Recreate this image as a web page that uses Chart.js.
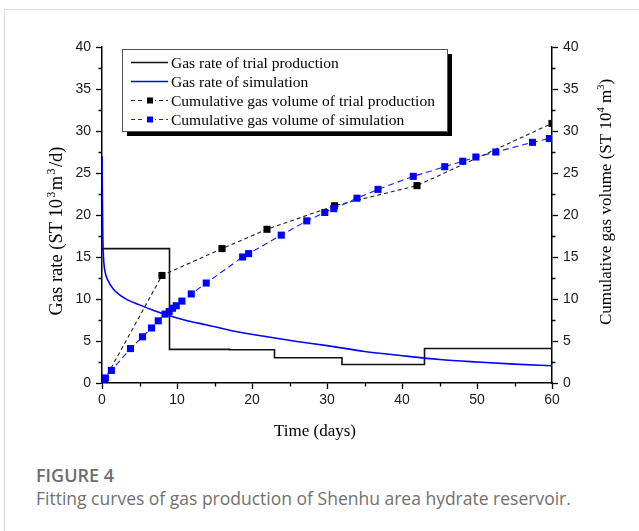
<!DOCTYPE html>
<html>
<head>
<meta charset="utf-8">
<script src="https://cdn.jsdelivr.net/npm/chart.js@4.4.1/dist/chart.umd.min.js"></script>
<style>
  html, body { margin: 0; padding: 0; background: #fff; }
  body { width: 639px; height: 531px; position: relative; overflow: hidden; }
  .frame { position: absolute; left: 4px; top: 9px; width: 700px; height: 600px; border-top: 1px solid #dcdcdc; border-left: 1px solid #dcdcdc; }
  #chart { position: absolute; left: 0; top: 0; }
  .fig-label { position: absolute; left: 36px; top: 466px; font: 600 18px/18px "Open Sans", sans-serif; color: #6d6d6d; }
  .fig-caption { position: absolute; left: 36px; top: 490px; font: 400 17.5px/17.5px "Open Sans", sans-serif; color: #707070; white-space: nowrap; }
</style>
</head>
<body>
<div class="frame"></div>
<canvas id="chart" width="639" height="460"></canvas>
<div class="fig-label">FIGURE 4</div>
<div class="fig-caption">Fitting curves of gas production of Shenhu area hydrate reservoir.</div>
<script>
// Gas rate (left axis) and cumulative volume (right axis), trial vs simulation.

const trialRateDays = [0, 9, 17, 23, 32, 43, 60];
const trialRate = [16, 4, 3.95, 3, 2.2, 4.1, 4.1];

const simRateDays = [0, 0.05, 0.1, 0.2, 0.4, 0.8, 1.5, 3, 5, 7, 9, 11, 14, 18, 22, 26, 30, 35, 40, 45, 50, 55, 60];
const simRate = [27, 22, 18, 15, 13.3, 12.2, 11.2, 10.1, 9.3, 8.6, 8.0, 7.5, 6.9, 6.1, 5.5, 4.95, 4.45, 3.75, 3.25, 2.8, 2.5, 2.25, 2.05];

const trialCumDays = [0.3, 8, 16, 22, 31, 42, 60];
const trialCum = [0.3, 12.8, 16, 18.3, 21.1, 23.5, 30.9];

const simCumDays = [0.1, 0.45, 1.25, 3.8, 5.4, 6.6, 7.5, 8.4, 8.95, 9.4, 9.9, 10.65, 11.9, 13.9, 18.75, 19.55, 23.9, 27.3, 29.7, 30.9, 34.0, 36.8, 41.5, 45.7, 48.1, 49.85, 52.5, 57.4, 59.65];
const simCum = [0.3, 0.6, 1.5, 4.1, 5.5, 6.55, 7.4, 8.2, 8.5, 8.9, 9.2, 9.75, 10.6, 11.9, 15.0, 15.4, 17.6, 19.3, 20.3, 20.75, 22.0, 23.05, 24.6, 25.75, 26.4, 26.9, 27.5, 28.65, 29.1];

const xTicks = [0, 10, 20, 30, 40, 50, 60];
const xMinor = [5, 15, 25, 35, 45, 55];
const yTicks = [0, 5, 10, 15, 20, 25, 30, 35, 40];
const yMinor = [2.5, 7.5, 12.5, 17.5, 22.5, 27.5, 32.5, 37.5];

const serif = '"Liberation Serif", "Times New Roman", serif';
const sans = '"Liberation Sans", Arial, sans-serif';

const toPoints = (xs, ys) => xs.map((x, i) => ({ x, y: ys[i] }));

// small ticks between the labelled ones
const minorTicks = {
  id: 'minorTicks',
  afterDraw(chart) {
    const { ctx, scales } = chart;
    ctx.save();
    ctx.strokeStyle = '#000';
    ctx.lineWidth = 1.3;
    ctx.beginPath();
    xMinor.forEach((v) => {
      const px = Math.round(scales.x.getPixelForValue(v)) + 0.5;
      ctx.moveTo(px, scales.x.top);
      ctx.lineTo(px, scales.x.top + 3.5);
    });
    yMinor.forEach((v) => {
      const py = Math.round(scales.y.getPixelForValue(v)) + 0.5;
      ctx.moveTo(scales.y.right, py);
      ctx.lineTo(scales.y.right - 3.5, py);
      ctx.moveTo(scales.y2.left, py);
      ctx.lineTo(scales.y2.left + 3.5, py);
    });
    ctx.stroke();
    ctx.restore();
  }
};

// text with raised small digits, centred on the current origin
const drawRich = (ctx, parts, size) => {
  let total = 0;
  parts.forEach((p) => {
    ctx.font = `${p.sup ? size * 0.62 : size}px ${serif}`;
    p.w = ctx.measureText(p.t).width + (p.gap || 0);
    total += p.w;
  });
  let x = -total / 2;
  parts.forEach((p) => {
    ctx.font = `${p.sup ? size * 0.62 : size}px ${serif}`;
    ctx.fillText(p.t, x + (p.gap || 0) / 2, p.sup ? -size * 0.4 : 0);
    x += p.w;
  });
};

const axisTitles = {
  id: 'axisTitles',
  afterDraw(chart) {
    const { ctx } = chart;
    ctx.save();
    ctx.fillStyle = '#000';
    ctx.textBaseline = 'alphabetic';
    ctx.textAlign = 'left';

    ctx.save();
    ctx.translate(315, 436);
    drawRich(ctx, [{ t: 'Time (days)' }], 17);
    ctx.restore();

    ctx.save();
    ctx.translate(62, 231);
    ctx.rotate(-Math.PI / 2);
    drawRich(ctx, [{ t: 'Gas rate (ST 10' }, { t: '3', sup: true, gap: 3 }, { t: 'm' }, { t: '3', sup: true, gap: 3 }, { t: '/d)' }], 18.5);
    ctx.restore();

    ctx.save();
    ctx.translate(611, 202);
    ctx.rotate(-Math.PI / 2);
    drawRich(ctx, [{ t: 'Cumulative gas volume (ST 10' }, { t: '4', sup: true }, { t: ' m' }, { t: '3', sup: true }, { t: ')' }], 17);
    ctx.restore();

    ctx.restore();
  }
};

// framed legend with a drop shadow, top left of the plot
const boxLegend = {
  id: 'boxLegend',
  afterDraw(chart) {
    const { ctx } = chart;
    const box = { x: 122, y: 49, w: 325, h: 82 };
    ctx.save();
    ctx.fillStyle = '#000';
    ctx.fillRect(box.x + 5, box.y + 5, box.w, box.h);
    ctx.fillStyle = '#fff';
    ctx.fillRect(box.x, box.y, box.w, box.h);
    ctx.strokeStyle = '#555';
    ctx.lineWidth = 1;
    ctx.strokeRect(box.x + 0.5, box.y + 0.5, box.w, box.h);

    const rows = [62.5, 81.5, 100.5, 119.5];
    chart.data.datasets.forEach((ds, i) => {
      const y = rows[i];
      ctx.strokeStyle = ds.borderColor;
      ctx.lineWidth = ds.borderDash ? 1.1 : 1.6;
      ctx.setLineDash(ds.borderDash ? [4, 3] : []);
      ctx.beginPath();
      ctx.moveTo(131, y);
      ctx.lineTo(168, y);
      ctx.stroke();
      ctx.setLineDash([]);
      if (ds.pointRadius) {
        ctx.fillStyle = '#fff';
        ctx.fillRect(145, y - 4, 10, 8);
        ctx.fillStyle = ds.pointBackgroundColor;
        ctx.fillRect(147, y - 3, 6, 6);
      }
      ctx.fillStyle = '#000';
      ctx.font = `15.5px ${serif}`;
      ctx.textBaseline = 'middle';
      ctx.fillText(ds.label, 171, y + 1);
    });
    ctx.restore();
  }
};

const tickFont = { family: sans, size: 14 };

new Chart(document.getElementById('chart'), {
  type: 'line',
  data: {
    datasets: [
      {
        label: 'Gas rate of trial production',
        data: toPoints(trialRateDays, trialRate),
        yAxisID: 'y',
        borderColor: '#111',
        borderWidth: 1.6,
        stepped: 'before',
        pointRadius: 0,
        order: 4
      },
      {
        label: 'Gas rate of simulation',
        data: toPoints(simRateDays, simRate),
        yAxisID: 'y',
        borderColor: '#0000ff',
        borderWidth: 1.6,
        cubicInterpolationMode: 'monotone',
        pointRadius: 0,
        order: 3
      },
      {
        label: 'Cumulative gas volume of trial production',
        data: toPoints(trialCumDays, trialCum),
        yAxisID: 'y2',
        borderColor: '#222',
        borderWidth: 1.1,
        borderDash: [4, 3],
        pointStyle: 'rect',
        pointRadius: 5,
        pointBackgroundColor: '#000',
        pointBorderWidth: 0,
        order: 2
      },
      {
        label: 'Cumulative gas volume of simulation',
        data: toPoints(simCumDays, simCum),
        yAxisID: 'y2',
        borderColor: '#1a1aff',
        borderWidth: 1.1,
        borderDash: [6, 4],
        pointStyle: 'rect',
        pointRadius: 5,
        pointBackgroundColor: '#0000ff',
        pointBorderWidth: 0,
        order: 1
      }
    ]
  },
  options: {
    responsive: false,
    animation: false,
    layout: { padding: { top: 47, left: 0, right: 0, bottom: 0 } },
    plugins: { legend: { display: false }, tooltip: { enabled: false } },
    scales: {
      x: {
        type: 'linear',
        min: 0,
        max: 60,
        afterBuildTicks: (s) => { s.ticks = xTicks.map((v) => ({ value: v })); },
        afterFit: (s) => { s.height = 77; },
        border: { color: '#000', width: 1.5 },
        grid: { drawOnChartArea: false, tickLength: 6, tickColor: '#000', tickWidth: 1.3 },
        ticks: { font: tickFont, color: '#1a1a1a', padding: 3, maxRotation: 0 }
      },
      y: {
        position: 'left',
        min: 0,
        max: 40,
        afterBuildTicks: (s) => { s.ticks = yTicks.map((v) => ({ value: v })); },
        afterFit: (s) => { s.width = 102; },
        border: { color: '#000', width: 1.5 },
        grid: { drawOnChartArea: false, tickLength: 6, tickColor: '#000', tickWidth: 1.3 },
        ticks: { font: tickFont, color: '#1a1a1a', padding: 5 }
      },
      y2: {
        position: 'right',
        min: 0,
        max: 40,
        afterBuildTicks: (s) => { s.ticks = yTicks.map((v) => ({ value: v })); },
        afterFit: (s) => { s.width = 87; },
        border: { color: '#000', width: 1.5 },
        grid: { drawOnChartArea: false, tickLength: 6, tickColor: '#000', tickWidth: 1.3 },
        ticks: { font: tickFont, color: '#1a1a1a', padding: 5 }
      }
    }
  },
  plugins: [minorTicks, axisTitles, boxLegend]
});
</script>
</body>
</html>
